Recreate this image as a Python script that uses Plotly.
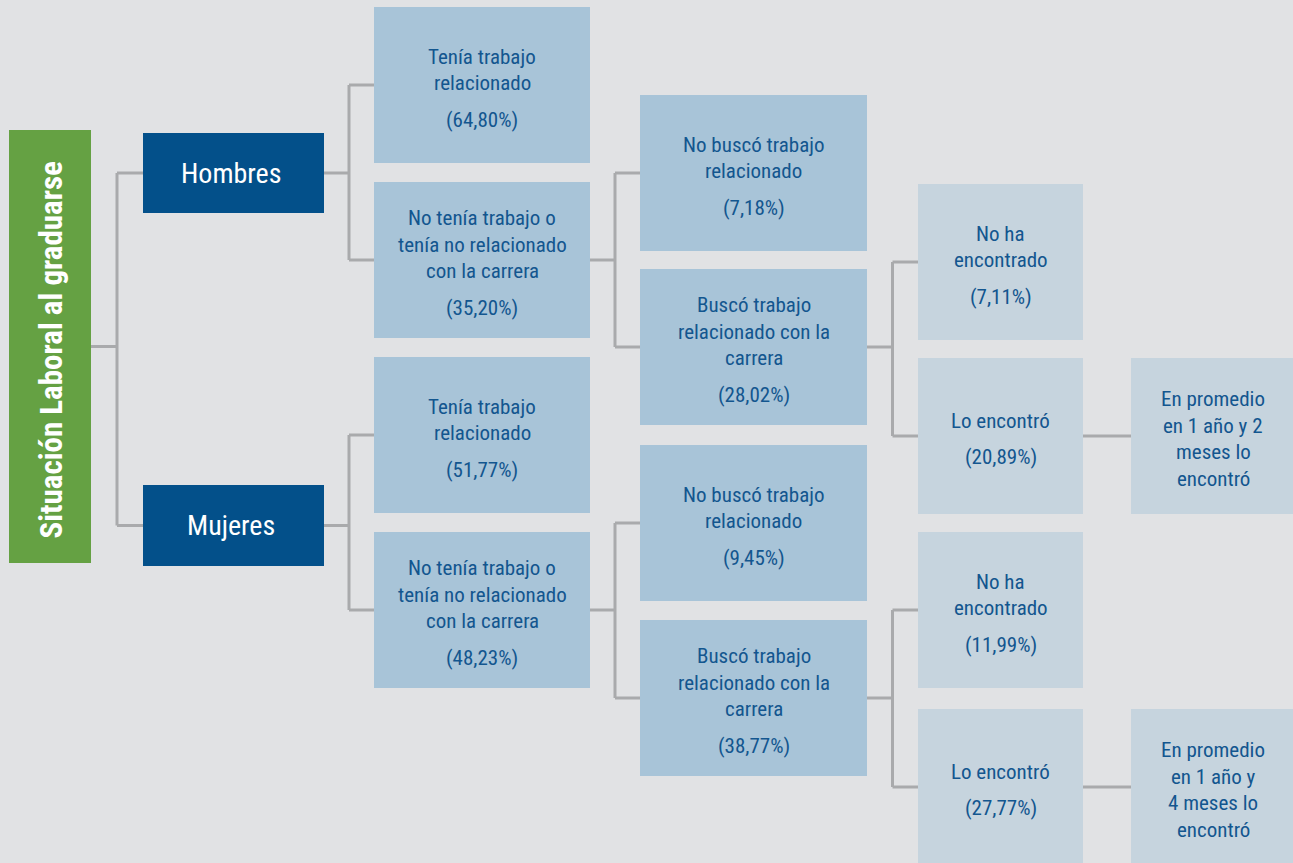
import plotly.graph_objects as go

# ---------------- data ----------------
root_label = "Situación Laboral al graduarse"
groups = ["Hombres", "Mujeres"]

level2_lines = [
    ["Tenía trabajo", "relacionado"],
    ["No tenía trabajo o", "tenía no relacionado", "con la carrera"],
    ["Tenía trabajo", "relacionado"],
    ["No tenía trabajo o", "tenía no relacionado", "con la carrera"],
]
level2_pct = ["64,80%", "35,20%", "51,77%", "48,23%"]

level3_lines = [
    ["No buscó trabajo", "relacionado"],
    ["Buscó trabajo", "relacionado con la", "carrera"],
    ["No buscó trabajo", "relacionado"],
    ["Buscó trabajo", "relacionado con la", "carrera"],
]
level3_pct = ["7,18%", "28,02%", "9,45%", "38,77%"]

level4_lines = [
    ["No ha", "encontrado"],
    ["Lo encontró"],
    ["No ha", "encontrado"],
    ["Lo encontró"],
]
level4_pct = ["7,11%", "20,89%", "11,99%", "27,77%"]

level5_lines = [
    ["En promedio", "en 1 año y 2", "meses lo", "encontró"],
    ["En promedio", "en 1 año y", "4 meses lo", "encontró"],
]

# ---------------- layout (pixel geometry) ----------------
W, H = 1293, 863
BG = "#e1e2e4"
LINE = "#a9aaac"
TXT = "#13568f"
GREEN = "#65a143"
DARK = "#03508a"
MID = "#a8c4d8"
LIGHT = "#c6d4de"

col_x = {
    "root": (9, 91), "grp": (143, 324), "l2": (374, 590),
    "l3": (640, 867), "l4": (918, 1083), "l5": (1131, 1300),
}
root_y = (130, 563)
grp_y = [(133, 213), (485, 566)]
l2_y = [(7, 163), (182, 338), (357, 513), (532, 688)]
l3_y = [(95, 251), (269, 425), (445, 601), (620, 776)]
l4_y = [(184, 340), (358, 514), (532, 688), (709, 870)]
l5_y = [(358, 514), (709, 870)]

FONT = "Roboto Condensed, Liberation Sans Narrow, sans-serif"
FS = 21
LINE_H = 26.5
PCT_GAP = 36.5

fig = go.Figure()
shapes = []
annotations = []


def box(xr, yr, color):
    shapes.append(dict(type="rect", xref="x", yref="y", x0=xr[0], x1=xr[1],
                       y0=yr[0], y1=yr[1], fillcolor=color, line_width=0,
                       layer="below"))


def text_block(cx, cy, lines, pct=None, size=FS, color=TXT, dy=3):
    n = len(lines)
    total = (n - 1) * LINE_H + (PCT_GAP if pct else 0)
    y = cy - total / 2 + dy
    for ln in lines:
        annotations.append(dict(x=cx, y=y, xref="x", yref="y", text=ln,
                                showarrow=False, font=dict(family=FONT, size=size, color=color),
                                xanchor="center", yanchor="middle"))
        y += LINE_H
    if pct:
        y += PCT_GAP - LINE_H
        annotations.append(dict(x=cx, y=y, xref="x", yref="y", text="(" + pct + ")",
                                showarrow=False, font=dict(family=FONT, size=size, color=color),
                                xanchor="center", yanchor="middle"))


def mid(r):
    return (r[0] + r[1]) / 2


def connect(pxr, pyr, cxr, cyrs):
    x0 = pxr[1]
    x1 = cxr[0]
    ex = (x0 + x1) / 2
    py = mid(pyr)
    line = dict(color=LINE, width=3)
    if len(cyrs) == 1:
        shapes.append(dict(type="line", xref="x", yref="y", x0=x0, x1=x1, y0=py, y1=py, line=line, layer="below"))
        return
    shapes.append(dict(type="line", xref="x", yref="y", x0=x0, x1=ex, y0=py, y1=py, line=line, layer="below"))
    ys = [mid(c) for c in cyrs]
    shapes.append(dict(type="line", xref="x", yref="y", x0=ex, x1=ex, y0=min(ys), y1=max(ys), line=line, layer="below"))
    for y in ys:
        shapes.append(dict(type="line", xref="x", yref="y", x0=ex, x1=x1, y0=y, y1=y, line=line, layer="below"))


def full(r):
    # nominal full-height extent of a box (the lowest ones run past the page edge)
    return (r[0], r[0] + 156)


# connectors first (below boxes)
connect(col_x["root"], root_y, col_x["grp"], grp_y)
for g in range(2):
    connect(col_x["grp"], grp_y[g], col_x["l2"], [l2_y[2 * g], l2_y[2 * g + 1]])
    connect(col_x["l2"], l2_y[2 * g + 1], col_x["l3"], [l3_y[2 * g], l3_y[2 * g + 1]])
    connect(col_x["l3"], l3_y[2 * g + 1], col_x["l4"], [full(l4_y[2 * g]), full(l4_y[2 * g + 1])])
    connect(col_x["l4"], full(l4_y[2 * g + 1]), col_x["l5"], [full(l5_y[g])])

# boxes
box(col_x["root"], root_y, GREEN)
annotations.append(dict(x=mid(col_x["root"]) + 1, y=mid(root_y) + 4, xref="x", yref="y",
                        text="<b>" + root_label + "</b>", textangle=-90, showarrow=False,
                        font=dict(family=FONT, size=31, color="white"),
                        xanchor="center", yanchor="middle"))
for g, name in enumerate(groups):
    box(col_x["grp"], grp_y[g], DARK)
    annotations.append(dict(x=mid(col_x["grp"]) - 3, y=mid(grp_y[g]), xref="x", yref="y",
                            text=name, showarrow=False,
                            font=dict(family=FONT, size=28, color="white"),
                            xanchor="center", yanchor="middle"))

for i in range(4):
    box(col_x["l2"], l2_y[i], MID)
    text_block(mid(col_x["l2"]), mid(l2_y[i]), level2_lines[i], level2_pct[i])
    box(col_x["l3"], l3_y[i], MID)
    text_block(mid(col_x["l3"]), mid(l3_y[i]), level3_lines[i], level3_pct[i])
    box(col_x["l4"], l4_y[i], LIGHT)
    text_block(mid(col_x["l4"]), mid(full(l4_y[i])), level4_lines[i], level4_pct[i])
for g in range(2):
    box(col_x["l5"], l5_y[g], LIGHT)
    text_block(1213, mid(full(l5_y[g])), level5_lines[g], None)

fig.update_layout(
    width=W, height=H,
    margin=dict(l=0, r=0, t=0, b=0),
    paper_bgcolor=BG, plot_bgcolor=BG,
    xaxis=dict(range=[0, W], visible=False, fixedrange=True),
    yaxis=dict(range=[H, 0], visible=False, fixedrange=True),
    shapes=shapes, annotations=annotations, showlegend=False,
)
fig.write_html("out.html", config=dict(displayModeBar=False),
               post_script="document.body.style.margin='0';")
